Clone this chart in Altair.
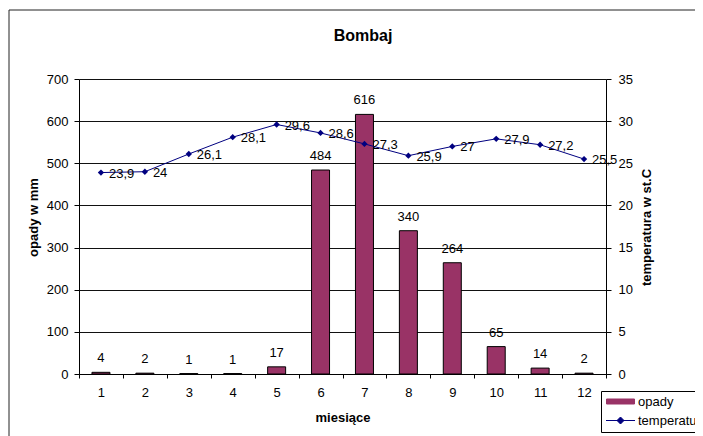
import altair as alt
import pandas as pd

# ---- data ----
tytul = ["Bombaj"]
miesiace = [1, 2, 3, 4, 5, 6, 7, 8, 9, 10, 11, 12]
opady = [4, 2, 1, 1, 17, 484, 616, 340, 264, 65, 14, 2]
temperatura = [23.9, 24.0, 26.1, 28.1, 29.6, 28.6, 27.3, 25.9, 27.0, 27.9, 27.2, 25.5]
serie = ["opady", "temperatura"]
kolory = ["#993366", "#000080"]
opady_ticks = [0, 100, 200, 300, 400, 500, 600, 700]
temp_ticks = [0, 5, 10, 15, 20, 25, 30, 35]

df = pd.DataFrame({"miesiac": miesiace, "opady": opady, "temperatura": temperatura})
df["temp_label"] = [f"{t:g}".replace(".", ",") for t in temperatura]

FONT = "Liberation Sans"
W, H = 527, 295

x_scale = alt.Scale(paddingInner=0, paddingOuter=0)
x_axis = alt.Axis(
    title="miesiące", labelAngle=0, tickBand="extent", grid=False,
    domainColor="black", tickColor="black", tickSize=4, labelPadding=8,
    labelFont=FONT, labelFontSize=13, labelColor="black",
    titleFont=FONT, titleFontSize=13, titleFontWeight="bold", titleColor="black",
    titleBaseline="middle", titleY=43,
)
X = alt.X("miesiac:O", scale=x_scale, axis=x_axis)

left_axis = alt.Axis(
    title="opady w mm", orient="left", values=opady_ticks, grid=True,
    gridColor="#111111", gridWidth=1, domainColor="black", tickColor="black",
    tickSize=5, labelPadding=6, labelFont=FONT, labelFontSize=13, labelColor="black",
    titleFont=FONT, titleFontSize=13, titleFontWeight="bold", titleColor="black",
    titleAngle=270, titleBaseline="middle", titleX=-46, titleY=138,
)
right_axis = alt.Axis(
    title="temperatura w st.C", orient="right", values=temp_ticks, grid=False,
    domainColor="black", tickColor="black", tickSize=5, labelPadding=7,
    labelFont=FONT, labelFontSize=13, labelColor="black",
    titleFont=FONT, titleFontSize=13, titleFontWeight="bold", titleColor="black",
    titleAngle=270, titleBaseline="middle", titleX=40, titleY=148,
)
Y_left = alt.Y("opady:Q", scale=alt.Scale(domain=[0, 700]), axis=left_axis)
Y_right = alt.Y("temperatura:Q", scale=alt.Scale(domain=[0, 35]), axis=right_axis)

shape_sig = ("datum.value === 'opady' ? 'M-2.8,-0.5H2.8V0.5H-2.8Z' : "
             "'M-2.9,0H2.9M0,-0.7L0.7,0L0,0.7L-0.7,0Z'")
legend = alt.Legend(
    title=None, orient="none", legendX=522, legendY=312,
    strokeColor="black", fillColor="white", padding=4,
    symbolSize=100, symbolOffset=9, labelOffset=11, rowPadding=5,
    labelFont=FONT, labelFontSize=13, labelColor="black",
    symbolType={"expr": shape_sig},
    symbolFillColor={"expr": "datum.value === 'opady' ? '#993366' : '#000080'"},
    symbolStrokeColor={"expr": "datum.value === 'opady' ? '#000000' : '#000080'"},
    symbolStrokeWidth=1, symbolOpacity=1,
)
C = alt.Color("seria:N", scale=alt.Scale(domain=serie, range=kolory), legend=legend)

base = alt.Chart(df)

bars = base.transform_calculate(seria="'opady'").mark_bar(
    size=18, stroke="black", strokeWidth=1
).encode(x=X, y=Y_left, color=C)

bar_text = base.mark_text(
    baseline="alphabetic", dy=-10, font=FONT, fontSize=13, color="black"
).encode(x=X, y=Y_left, text=alt.Text("opady:Q"))

line = base.transform_calculate(seria="'temperatura'").mark_line(
    strokeWidth=1
).encode(x=X, y=Y_right, color=C)

points = base.mark_point(
    shape="diamond", filled=True, size=40, color="#000080", opacity=1
).encode(x=X, y=Y_right)

line_text = base.mark_text(
    align="left", baseline="middle", dx=8, dy=1, font=FONT, fontSize=13, color="black"
).encode(x=X, y=Y_right, text="temp_label:N")

frame_df = pd.DataFrame({"t": tytul})
border = alt.Chart(frame_df).mark_rect(
    fill="white", fillOpacity=0, stroke="#222222", strokeWidth=1
).encode(x=alt.value(-70), x2=alt.value(700), y=alt.value(-69), y2=alt.value(420))

title_txt = alt.Chart(frame_df).mark_text(
    font=FONT, fontSize=16, fontWeight="bold", color="black",
    align="center", baseline="middle"
).encode(x=alt.value(284), y=alt.value(-43), text="t:N")

left = alt.layer(bars, bar_text)
right = alt.layer(line, points, line_text)

chart = alt.layer(border, title_txt, left, right).resolve_scale(y="independent").properties(
    width=W, height=H,
    autosize=alt.AutoSizeParams(type="none"),
    padding={"left": 71, "top": 71, "right": 89, "bottom": 62},
    background="white",
).configure_view(strokeWidth=0)

chart.save("out.html", embed_options={"renderer": "svg", "actions": False})
